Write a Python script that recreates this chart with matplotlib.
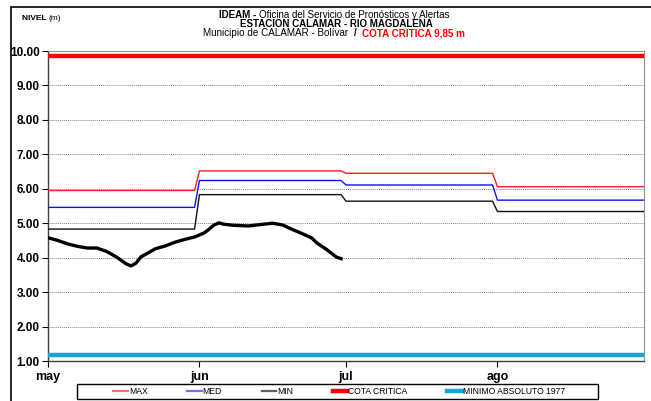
import matplotlib
matplotlib.use("Agg")
import matplotlib.pyplot as plt
from matplotlib.patches import Rectangle
import numpy as np

plt.rcParams['font.family'] = ['Liberation Sans', 'DejaVu Sans']

# Days counted from 1 May
month_ticks = [0, 31, 61, 92]
month_labels = ['may', 'jun', 'jul', 'ago']
x_end = 122

# Monthly statistics (step lines)
step_days = [0, 30, 31, 60, 61, 91, 92, 122]
max_vals = [5.95, 5.95, 6.52, 6.52, 6.45, 6.45, 6.06, 6.06]
med_vals = [5.46, 5.46, 6.24, 6.24, 6.11, 6.11, 5.67, 5.67]
min_vals = [4.83, 4.83, 5.83, 5.83, 5.64, 5.64, 5.34, 5.34]

cota_critica = 9.85
minimo_absoluto = 1.16

# Observed level
obs_days = [0, 2, 4, 6, 8, 10, 12, 14, 15, 16, 17, 18, 19, 20, 22, 24, 26, 28, 30,
            32, 33, 34, 35, 36, 38, 41, 44, 46, 48, 50, 52, 54, 55, 57, 59, 60]
obs_vals = [4.58, 4.50, 4.40, 4.33, 4.28, 4.28, 4.18, 4.02, 3.92, 3.82, 3.76, 3.84,
            4.02, 4.10, 4.26, 4.34, 4.45, 4.53, 4.60, 4.72, 4.83, 4.95, 5.01, 4.97,
            4.94, 4.92, 4.97, 5.00, 4.95, 4.82, 4.70, 4.57, 4.43, 4.24, 4.02, 3.97]

W, H = 651, 401
fig = plt.figure(figsize=(W / 100, H / 100), dpi=100)
ax = fig.add_axes([48 / W, 1 - 361 / H, 596 / W, 310 / H])

ax.plot(step_days, max_vals, color='#ff2020', lw=1.0, label='MAX', zorder=3)
ax.plot(step_days, med_vals, color='#1010ff', lw=1.0, label='MED', zorder=3)
ax.plot(step_days, min_vals, color='#101010', lw=1.0, label='MIN', zorder=3)
ax.plot([0, x_end], [cota_critica, cota_critica], color='#ff0000', lw=3.2,
        label='COTA CRITICA', zorder=3, solid_capstyle='butt')
ax.plot([0, x_end], [minimo_absoluto, minimo_absoluto], color='#1aa3d6', lw=3.2,
        label='MINIMO ABSOLUTO 1977', zorder=3, solid_capstyle='butt')
ax.plot(obs_days, obs_vals, color='black', lw=2.4, zorder=4)

ax.set_xlim(0, x_end)
ax.set_ylim(1, 10)
yt = np.arange(1, 10.5, 1)
ax.set_yticks(yt)
ax.set_yticklabels([f'{v:.2f}' for v in yt], fontweight='bold', fontsize=8.5)
ax.set_xticks(month_ticks)
ax.set_xticklabels(month_labels, fontweight='bold', fontsize=9)
ax.tick_params(axis='x', length=4, width=0.8, pad=3, direction='out')
ax.tick_params(axis='y', length=4, width=0.8, pad=2, direction='out')
ax.yaxis.grid(True, linestyle=(0, (1, 1)), color='#888888', lw=0.7)
ax.set_axisbelow(True)
for s in ['left', 'bottom']:
    ax.spines[s].set_color('#404040')
    ax.spines[s].set_linewidth(1.0)
for s in ['top', 'right']:
    ax.spines[s].set_color('#909090')
    ax.spines[s].set_linewidth(0.8)

fig.canvas.draw()
renderer = fig.canvas.get_renderer()


def run_texts(parts, x_center, y_px, fs):
    """Draw a sequence of text runs centered horizontally at x_center (pixels)."""
    objs = []
    for txt, kw in parts:
        t = fig.text(0, 1 - y_px / H, txt, fontsize=fs, va='center', ha='left', **kw)
        objs.append(t)
    widths = [o.get_window_extent(renderer).width for o in objs]
    total = sum(widths)
    x = x_center - total / 2
    for o, w in zip(objs, widths):
        o.set_x(x / W)
        x += w


def left_texts(parts, x_left, y_px, fs):
    x = x_left
    for txt, kw in parts:
        t = fig.text(x / W, 1 - y_px / H, txt, fontsize=fs, va='center', ha='left', **kw)
        x += t.get_window_extent(renderer).width


left_texts([('NIVEL ', dict(fontweight='bold')), ('(m)', {})], 22, 19, 6)
run_texts([('IDEAM - ', dict(fontweight='bold')),
           ('Oficina del Servicio de Pronósticos y Alertas', {})], 334, 15, 7)
run_texts([('ESTACION CALAMAR - RIO MAGDALENA', dict(fontweight='bold'))], 336, 24, 7)
run_texts([('Municipio de CALAMAR - Bolívar  ', {}),
           ('/  ', dict(fontweight='bold')),
           ('COTA CRITICA 9,85 m', dict(fontweight='bold', color='#ff0000'))], 334, 33.5, 7.1)

# Outer frame
fig.patches.append(Rectangle((11 / W, -0.01), 1.0, 1 - 7 / H + 0.01, transform=fig.transFigure,
                             fill=False, edgecolor='black', lw=1.2))

# Legend frame
fig.patches.append(Rectangle((77 / W, 1 - 399 / H), 521 / W, 15 / H,
                             transform=fig.transFigure, fill=False,
                             edgecolor='black', lw=1.0))

handles = [
    plt.Line2D([], [], color='#ff7070', lw=1.6),
    plt.Line2D([], [], color='#7070ff', lw=1.6),
    plt.Line2D([], [], color='#606060', lw=1.6),
    plt.Line2D([], [], color='#ff0000', lw=3.2),
    plt.Line2D([], [], color='#1aa3d6', lw=3.2),
]
labels = ['MAX', 'MED', 'MIN', 'COTA CRITICA', 'MINIMO ABSOLUTO 1977']
leg = fig.legend(handles, labels, ncol=5, loc='center',
                 bbox_to_anchor=(339 / W, 1 - 391.5 / H),
                 fontsize=6.2, frameon=False,
                 handlelength=1.7, handletextpad=0.1, borderpad=0.0,
                 columnspacing=4.6, borderaxespad=0)

fig.savefig('out.png', dpi=100)
